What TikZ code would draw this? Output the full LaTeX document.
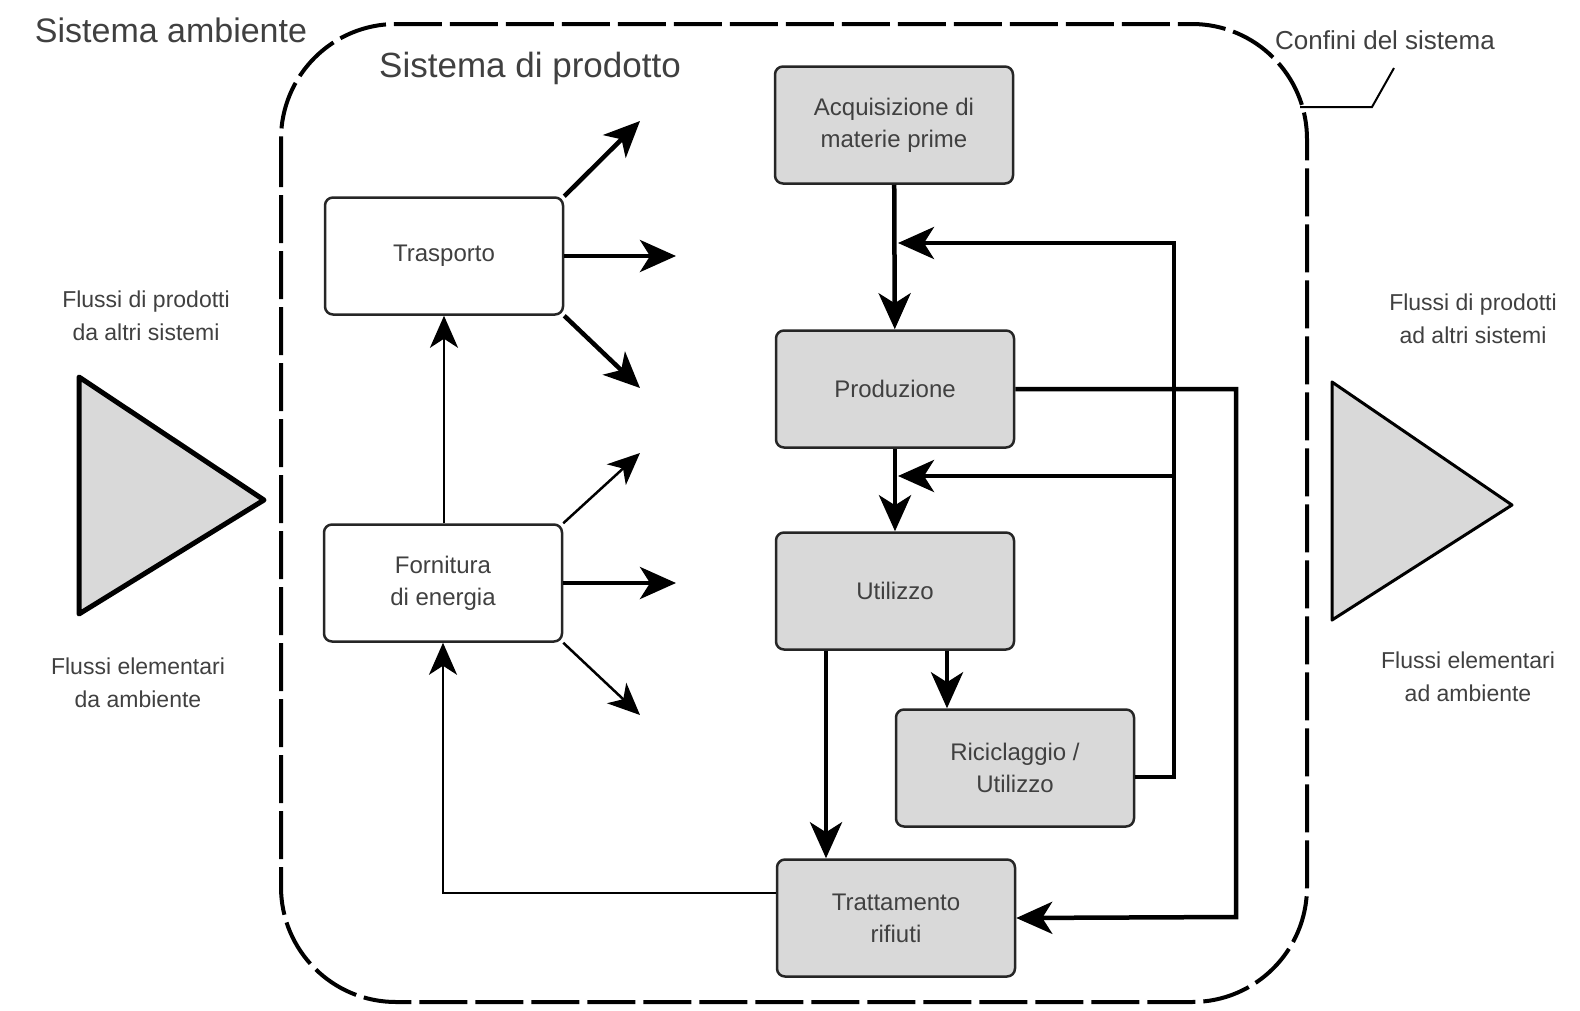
\documentclass[tikz,border=0pt]{standalone}
\usepackage{fontspec}
\setmainfont{Liberation Sans}
\usetikzlibrary{arrows.meta}
\usetikzlibrary{calc}

\tikzset{procbox/.style={draw=black!85, line width=2.5pt, rounded corners=8pt,
    minimum width=238pt, minimum height=117pt, align=center, text=black!75,
    font=\fontsize{24}{32}\selectfont}}
\tikzset{greybox/.style={procbox, fill=black!15}}
\tikzset{flow/.style={line width=4.5pt, -{Stealth[length=36pt,width=32pt,inset=10pt]}}}
\tikzset{thinflow/.style={line width=2.5pt, -{Stealth[length=32pt,width=28pt,inset=9pt]}}}
\tikzset{lbl/.style={align=center, text=black!75, font=\fontsize{23}{33}\selectfont}}
\tikzset{boundary/.style={line width=4pt, dash pattern=on 48pt off 8pt, rounded corners=115pt}}
\tikzset{flowtri/.style={fill=black!15, line join=round}}

\begin{document}
\begin{tikzpicture}[x=1pt,y=-1pt]
\useasboundingbox (0,0) rectangle (1580,1010);
% confini del sistema
\draw[boundary] (281,24) rectangle (1307,1002);
\node[lbl, font=\fontsize{34}{40}\selectfont] (amb) at (171,30) {Sistema ambiente};
\node[lbl, font=\fontsize{35}{40}\selectfont] (prodsys) at (530,68) {Sistema di prodotto};
\node[lbl, font=\fontsize{26}{30}\selectfont] (confini) at (1385,40) {Confini del sistema};
\coordinate (leader) at (1394,68);
\draw[line width=2pt] (1300,107) -- (1372,107) -- (leader);
% flussi in ingresso / uscita
\node[lbl] (inpr) at (146,316) {Flussi di prodotti\\da altri sistemi};
\node[lbl] (inel) at (138,683) {Flussi elementari\\da ambiente};
\node[lbl] (outpr) at (1473,319) {Flussi di prodotti\\ad altri sistemi};
\node[lbl] (outel) at (1468,677) {Flussi elementari\\ad ambiente};
\draw[flowtri, line width=5pt] (79,377) -- (79,614) -- (264,500) -- cycle;
\draw[flowtri, line width=3pt] (1332,382) -- (1332,620) -- (1512,505) -- cycle;
% processi
\node[procbox] (trasp) at (444,256) {Trasporto};
\node[procbox] (forn) at (443,583) {Fornitura\\di energia};
\node[greybox] (acq) at (894,125) {Acquisizione di\\materie prime};
\node[greybox] (prod) at (895,389) {Produzione};
\node[greybox] (util) at (895,591) {Utilizzo};
\node[greybox] (ricic) at (1015,768) {Riciclaggio /\\Utilizzo};
\node[greybox] (tratt) at (896,918) {Trattamento\\rifiuti};
% uscite libere
\coordinate (t1) at (640,121);
\coordinate (t2) at (676,256);
\coordinate (t3) at (640,388);
\coordinate (f1) at (640,453);
\coordinate (f2) at (676,583);
\coordinate (f3) at (640,715);
\draw[flow] (trasp.north east) -- (t1);
\draw[flow] (trasp.east) -- (t2);
\draw[flow] (trasp.south east) -- (t3);
\draw[thinflow] (forn.north east) -- (f1);
\draw[flow] (forn.east) -- (f2);
\draw[thinflow] (forn.south east) -- (f3);
% catena principale
\draw[flow] (acq) -- (prod);
\draw[flow] (prod) -- (util);
\draw[flow] ([xshift=-69pt]util.south) -- ([xshift=-69pt]util.south |- tratt.north);
\draw[flow] ([xshift=52pt]util.south) -- ([xshift=52pt]util.south |- ricic.north);
% ricircolo
\coordinate (r1) at (898,243);
\coordinate (r2) at (898,476);
\draw[flow] ([yshift=-9pt]ricic.east) -| (1174,243) -- (r1);
\draw[flow] (1174,476) -- (r2);
\draw[flow] (prod.east) -| (1236,917) -- (tratt.east);
\draw[thinflow] ([yshift=25pt]tratt.west) -| (forn.south);
\draw[thinflow] (forn.north -| trasp.south) -- (trasp.south);
\end{tikzpicture}
\end{document}
